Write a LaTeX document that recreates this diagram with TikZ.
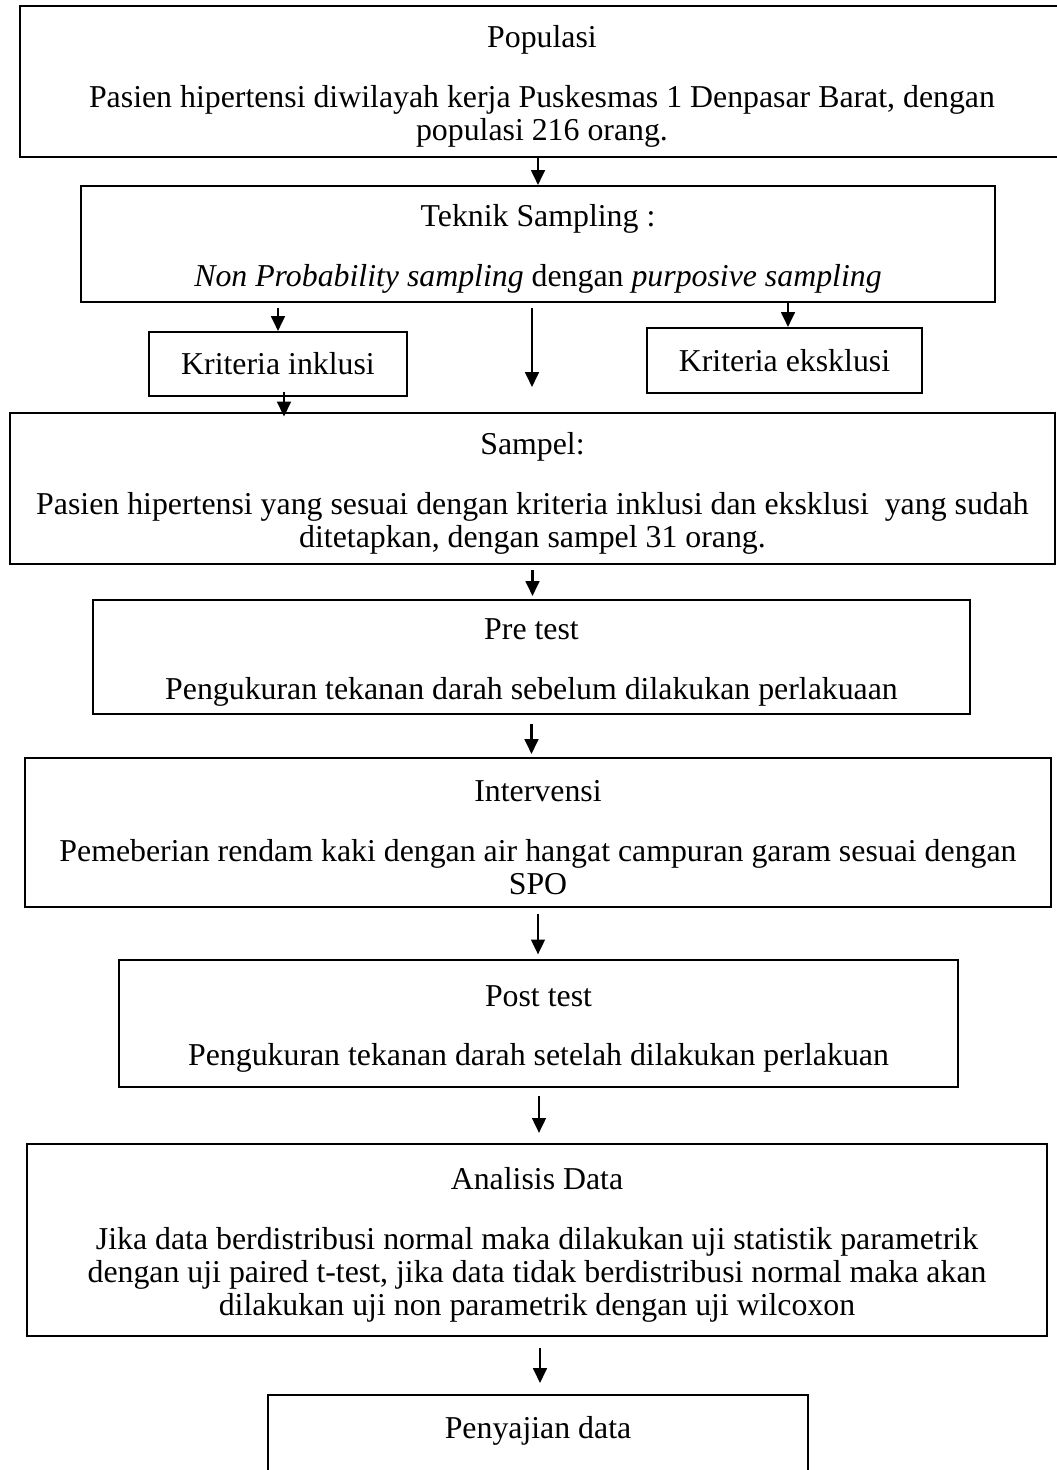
\documentclass[tikz,border=0pt]{standalone}
\usepackage{fontspec}
\setmainfont{Liberation Serif}
\usetikzlibrary{arrows.meta}
\newcommand{\pxl}{0.43675pt}
\newcommand{\judul}[1]{\rule{0pt}{13.9pt}#1\\[11.8pt]}

\begin{document}
\begin{tikzpicture}[x=0.01535cm, y=-0.01535cm,
        box/.style={draw, line width=0.9pt, inner sep=0pt, align=center, font=\fontsize{13.9}{14.4}\selectfont},
        flow/.style={-{Triangle[width=6pt,length=6.5pt]}, line width=1pt}]
        \useasboundingbox (0,0) rectangle (1057,1470);
        \node[box, minimum width=1044*\pxl, minimum height=151*\pxl] (populasi) at (542,81.5) {\judul{Populasi}Pasien hipertensi diwilayah kerja Puskesmas 1 Denpasar Barat, dengan\\populasi 216 orang.};
        \node[box, minimum width=914*\pxl, minimum height=116*\pxl] (teknik) at (538,244) {\judul{Teknik Sampling :}\textit{Non Probability sampling} dengan \textit{purposive sampling}};
        \node[box, minimum width=258*\pxl, minimum height=64*\pxl] (inklusi) at (278,364) {Kriteria inklusi};
        \node[box, minimum width=275*\pxl, minimum height=65*\pxl] (eksklusi) at (784.5,360.5) {Kriteria eksklusi};
        \node[box, minimum width=1045*\pxl, minimum height=151*\pxl] (sampel) at (532.5,488.5) {\judul{Sampel:}Pasien hipertensi yang sesuai dengan kriteria inklusi dan eksklusi \ yang sudah\\ditetapkan, dengan sampel 31 orang.};
        \node[box, minimum width=877*\pxl, minimum height=114*\pxl] (pretest) at (531.5,657) {\judul{Pre test}Pengukuran tekanan darah sebelum dilakukan perlakuaan};
        \node[box, minimum width=1026*\pxl, minimum height=149*\pxl] (intervensi) at (538,832.5) {\judul{Intervensi}Pemeberian rendam kaki dengan air hangat campuran garam sesuai dengan\\SPO};
        \node[box, minimum width=839*\pxl, minimum height=127*\pxl] (posttest) at (538.5,1023.5) {\judul{Post test}Pengukuran tekanan darah setelah dilakukan perlakuan};
        \node[box, minimum width=1020*\pxl, minimum height=192*\pxl] (analisis) at (537,1240) {\judul{Analisis Data}Jika data berdistribusi normal maka dilakukan uji statistik parametrik\\dengan uji paired t-test, jika data tidak berdistribusi normal maka akan\\dilakukan uji non parametrik dengan uji wilcoxon};
        \node[box, anchor=north, minimum width=540*\pxl, text height=18.8pt, text depth=45pt] (penyajian) at (538,1394) {Penyajian data};
        \coordinate (ujung) at (532,387);
        \draw[flow] (populasi.south -| teknik.north) -- (teknik.north);
        \draw[flow, shorten <=2pt] (teknik.south -| inklusi.north) -- (inklusi.north);
        \draw[flow, shorten <=2pt] (teknik.south -| ujung) -- (ujung);
        \draw[flow] (teknik.south -| 788,0) -- (eksklusi.north -| 788,0);
        \draw[flow, shorten <=-2pt, shorten >=-2pt] (inklusi.south -| 284,0) -- (sampel.north -| 284,0);
        \draw[flow, shorten <=2pt, shorten >=1.3pt] (sampel.south) -- (sampel.south |- pretest.north);
        \draw[flow, shorten <=4pt, shorten >=1.3pt] (pretest.south) -- (pretest.south |- intervensi.north);
        \draw[flow, shorten <=2.6pt, shorten >=2pt] (intervensi.south) -- (intervensi.south |- posttest.north);
        \draw[flow, shorten <=3.5pt, shorten >=4.4pt] (posttest.south -| 539,0) -- (analisis.north -| 539,0);
        \draw[flow, shorten <=4.8pt, shorten >=4.8pt] (analisis.south -| 540,0) -- (penyajian.north -| 540,0);
\end{tikzpicture}
\end{document}
